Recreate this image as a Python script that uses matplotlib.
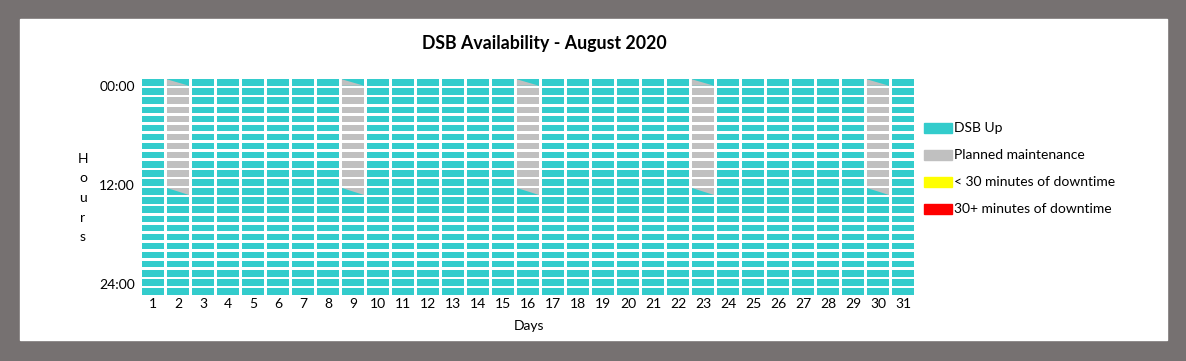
import matplotlib.pyplot as plt
from matplotlib.patches import Rectangle

plt.rcParams['font.family'] = ['Lato', 'DejaVu Sans']

# data
days = list(range(1, 32))
n_hours = 24
maint_days = [2, 9, 16, 23, 30]
maint_first_row = 0     # hour where maintenance starts (diagonal cell)
maint_last_row = 12     # hour where maintenance ends (diagonal cell)
hour_ticks = [0.95, 11.9, 22.8]
hour_labels = ['00:00', '12:00', '24:00']
legend_labels = ['DSB Up', 'Planned maintenance',
                 '< 30 minutes of downtime', '30+ minutes of downtime']
legend_colors = ['#33CCCC', '#C0C0C0', '#FFFF00', '#FF0000']

UP, MAINT = legend_colors[0], legend_colors[1]
W = 1186 / 100
H = 361 / 100

fig = plt.figure(figsize=(W, H), dpi=100)
fig.patch.set_facecolor('#767171')
fig.patches.append(Rectangle((20 / 1186, 1 - 340 / 361), 1147 / 1186, 321 / 361,
                             transform=fig.transFigure, color='white', zorder=-5))

ax = fig.add_axes([140.5 / 1186, 1 - 296 / 361, 775 / 1186, 218 / 361])
ax.set_xlim(0.5, 31.5)
ax.set_ylim(n_hours, 0)
ax.axis('off')
ax.patch.set_alpha(0)

cw, ch = 0.89, 0.71   # cell width / height in data units
for r in range(n_hours):
    cols = []
    for d in days:
        if d in maint_days and maint_first_row < r < maint_last_row:
            cols.append(MAINT)
        else:
            cols.append(UP)
    ax.bar(days, ch, bottom=r + (1 - ch) / 2, width=cw, color=cols, linewidth=0)

# diagonal partial cells at start / end of maintenance
for d in maint_days:
    x0, x1 = d - cw / 2, d + cw / 2
    r = maint_first_row
    y0, y1 = r + (1 - ch) / 2, r + (1 + ch) / 2
    ax.fill([x0, x1, x0], [y0, y1, y1], color=MAINT, linewidth=0)
    r = maint_last_row
    y0, y1 = r + (1 - ch) / 2, r + (1 + ch) / 2
    ax.fill([x0, x1, x1], [y0, y0, y1], color=MAINT, linewidth=0)

for y, lab in zip(hour_ticks, hour_labels):
    ax.text(0.28, y, lab, ha='right', va='center', fontsize=10, clip_on=False)
for d in days:
    ax.text(d, 24.9, str(d), ha='center', va='center', fontsize=10, clip_on=False)

fig.text(544 / 1186, 1 - 43 / 361, 'DSB Availability - August 2020',
         ha='center', va='center', fontsize=12.8, fontweight='bold')
fig.text(529 / 1186, 1 - 326 / 361, 'Days', ha='center', va='center', fontsize=10)
fig.text(83 / 1186, 1 - 198 / 361, '\n'.join('Hours'), ha='center', va='center',
         fontsize=10, linespacing=1.75)

for i, (lab, col) in enumerate(zip(legend_labels, legend_colors)):
    yc = 128 + 27 * i
    fig.patches.append(Rectangle((924 / 1186, 1 - (yc + 4.7) / 361), 27.5 / 1186, 9.5 / 361,
                                 transform=fig.transFigure, color=col, zorder=2))
    fig.text(954 / 1186, 1 - yc / 361, lab, ha='left', va='center', fontsize=10)

fig.savefig('out.png', dpi=100, facecolor=fig.get_facecolor())
